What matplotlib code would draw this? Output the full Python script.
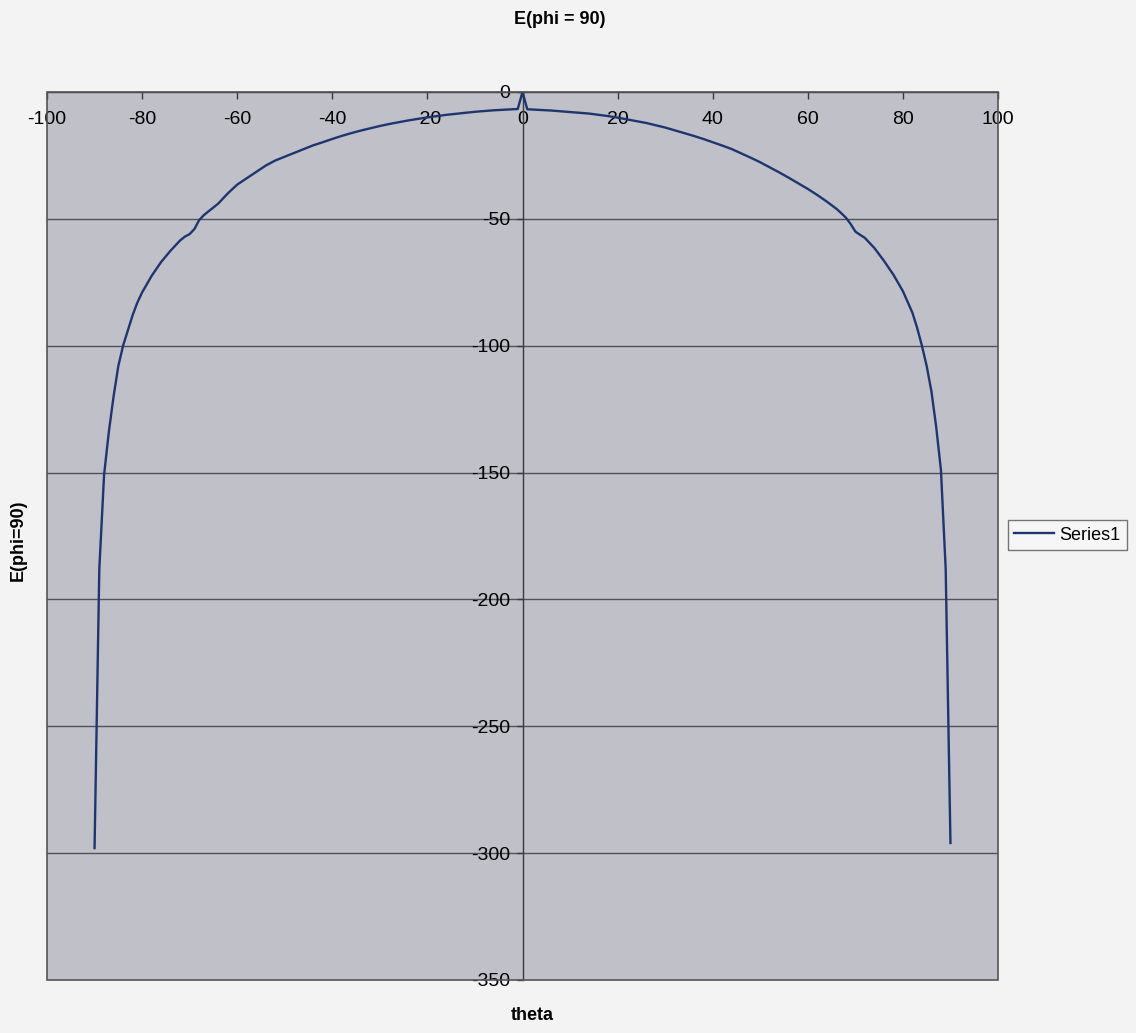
import matplotlib
matplotlib.use("Agg")
import matplotlib.pyplot as plt
from matplotlib.patches import Rectangle

# Far-field cut E(phi = 90) versus theta (degrees)
theta = [-90, -89, -88, -87, -86, -85, -84, -83, -82, -81, -80, -78, -76, -74,
         -73, -72, -71, -70, -69, -68, -67, -66, -64, -62, -60, -58, -56, -54,
         -52, -50, -48, -46, -44, -42, -40, -38, -36, -34, -32, -30, -28, -26,
         -24, -22, -20, -18, -16, -14, -12, -10, -8, -6, -4, -2, -1, 0,
         1, 2, 4, 6, 8, 10, 12, 14, 16, 18, 20, 22, 24, 26, 28, 30, 32, 34,
         36, 38, 40, 42, 44, 46, 48, 50, 52, 54, 56, 58, 60, 62, 64, 66, 67,
         68, 69, 70, 71, 72, 73, 74, 76, 78, 80, 82, 83, 84, 85, 86, 87, 88,
         89, 90]
e_field = [-298, -188, -151, -134, -120, -108, -100, -94, -88, -83, -79, -72.5,
           -67, -62.5, -60.5, -58.5, -57, -56, -54, -50.5, -48.5, -47, -44, -40,
           -36.5, -34, -31.5, -29, -27, -25.5, -24, -22.5, -21, -19.8, -18.5,
           -17.3, -16.2, -15.2, -14.3, -13.4, -12.6, -11.9, -11.2, -10.6, -10.0,
           -9.5, -9.0, -8.6, -8.2, -7.8, -7.5, -7.2, -7.0, -6.8, -6.7, 0,
           -6.8, -6.9, -7.1, -7.3, -7.6, -7.9, -8.2, -8.5, -9.0, -9.5, -10.1,
           -10.8, -11.5, -12.2, -13.1, -14.0, -15.1, -16.2, -17.3, -18.5, -19.8,
           -21.1, -22.5, -24.2, -25.9, -27.7, -29.7, -31.7, -33.8, -36.0, -38.2,
           -40.6, -43.2, -46.0, -47.7, -49.5, -52.0, -55.0, -56.3, -57.5, -59.5,
           -61.5, -66.5, -72.0, -78.5, -87.0, -93.0, -100.0, -108.0, -118.0,
           -132.0, -149.0, -188.0, -296.0]

x_ticks = [-100, -80, -60, -40, -20, 0, 20, 40, 60, 80, 100]
y_ticks = [0, -50, -100, -150, -200, -250, -300, -350]
grid_levels = [-50, -100, -150, -200, -250, -300]

plt.rcParams['font.family'] = ['Liberation Sans', 'DejaVu Sans']
plt.rcParams['axes.unicode_minus'] = False

W, H = 1136, 1033
fig = plt.figure(figsize=(W / 100, H / 100), dpi=100, facecolor='#f3f3f3')
ax = fig.add_axes([47 / W, 1 - 980 / H, (998 - 47) / W, (980 - 92) / H])
ax.set_facecolor('#bfc0c8')

ax.set_xlim(-100, 100)
ax.set_ylim(-350, 0)

for lvl in grid_levels:
    ax.axhline(lvl, color='#505258', lw=1.0, zorder=1)

ax.plot(theta, e_field, color='#1d3672', lw=1.7, label='Series1', zorder=3)

# axes cross at the origin: x axis along E = 0, y axis along theta = 0
ax.spines['bottom'].set_position(('data', 0))
ax.spines['left'].set_position(('data', 0))
ax.spines['top'].set_visible(False)
ax.spines['right'].set_visible(False)
for s in ('bottom', 'left'):
    ax.spines[s].set_color('#3a3a3a')
    ax.spines[s].set_linewidth(1.0)

ax.add_patch(Rectangle((0, 0), 1, 1, transform=ax.transAxes, fill=False,
                       ec='#555555', lw=1.2, clip_on=False, zorder=4))

ax.set_xticks(x_ticks)
ax.set_yticks(y_ticks)
ax.tick_params(axis='x', direction='out', length=5, width=1, color='#3a3a3a',
               labelsize=14, pad=9)
ax.tick_params(axis='y', direction='out', length=4, width=1, color='#3a3a3a',
               labelsize=14, pad=5)

fig.text(560 / W, 1 - 20 / H, 'E(phi = 90)', ha='center', va='center',
         fontsize=13, fontweight='bold')
fig.text(532 / W, 1 - 1015 / H, 'theta', ha='center', va='center',
         fontsize=13, fontweight='bold')
fig.text(18 / W, 1 - 540 / H, 'E(phi=90)', ha='center', va='center',
         rotation=90, fontsize=13, fontweight='bold')

leg = ax.legend(loc='center left', bbox_to_anchor=(1008 / W, 1 - 535 / H),
                bbox_transform=fig.transFigure, fontsize=13, frameon=True,
                fancybox=False, handlelength=2.2, handletextpad=0.3,
                borderpad=0.35, borderaxespad=0)
leg.get_frame().set_edgecolor('#555555')
leg.get_frame().set_facecolor('#f8f8f8')
leg.get_frame().set_linewidth(1.0)

fig.savefig('out.png', dpi=100, facecolor=fig.get_facecolor())
